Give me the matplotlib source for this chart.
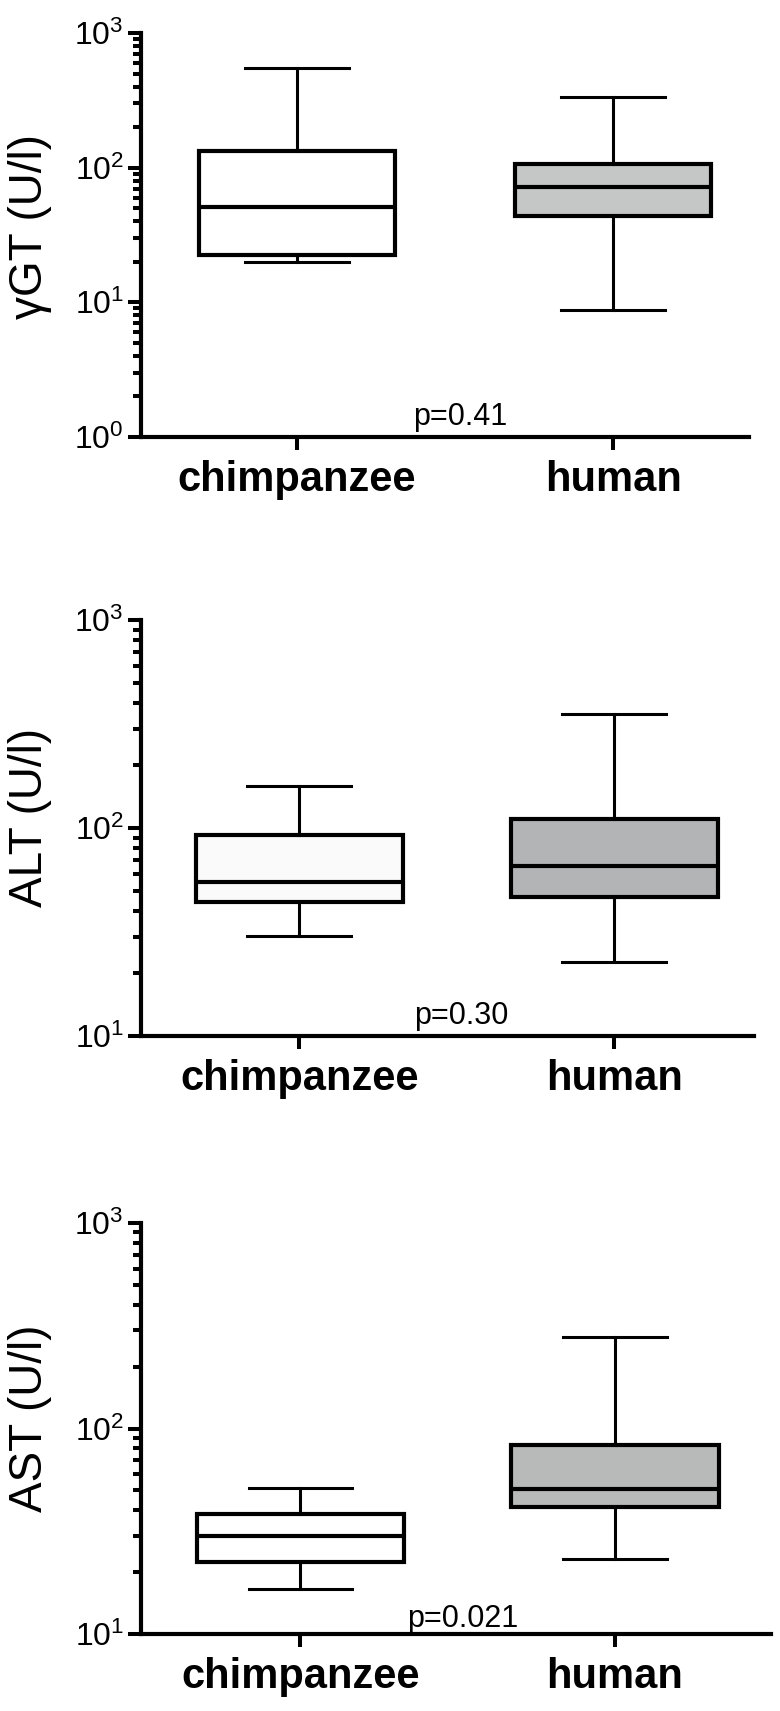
import matplotlib
matplotlib.use('Agg')
import matplotlib.pyplot as plt
from matplotlib.ticker import FixedLocator, FixedFormatter, LogLocator, NullFormatter

plt.rcParams['font.family'] = ['Liberation Sans', 'DejaVu Sans']
plt.rcParams['mathtext.fontset'] = 'custom'
plt.rcParams['mathtext.rm'] = 'Liberation Sans'
plt.rcParams['mathtext.it'] = 'Liberation Sans:italic'
plt.rcParams['mathtext.bf'] = 'Liberation Sans:bold'

# ---------------- data ----------------
groups = ['chimpanzee', 'human']
ylabels = ['γGT (U/l)', 'ALT (U/l)', 'AST (U/l)']
p_texts = ['p=0.41', 'p=0.30', 'p=0.021']

ggt_whislo = [20.0, 8.8]
ggt_q1 = [22.5, 43.7]
ggt_med = [51.0, 72.0]
ggt_q3 = [133.0, 106.0]
ggt_whishi = [550.0, 335.0]

alt_whislo = [30.3, 22.7]
alt_q1 = [44.0, 46.6]
alt_med = [55.0, 65.6]
alt_q3 = [92.5, 110.0]
alt_whishi = [159.0, 353.0]

ast_whislo = [16.6, 23.2]
ast_q1 = [22.4, 41.5]
ast_med = [30.0, 50.8]
ast_q3 = [38.4, 83.0]
ast_whishi = [51.3, 279.0]

y_decades = [[0, 1, 2, 3], [1, 2, 3], [1, 2, 3]]

# ---------------- styling / layout ----------------
W, H = 780, 1711
fig = plt.figure(figsize=(W / 100, H / 100), dpi=100)

# axes pixel boxes: left, top, right, bottom
ax_px = [(141, 33, 749, 437), (141, 620, 754, 1036), (141, 1223, 771, 1634)]
xlims = [(0.506, 2.430), (0.497, 2.443), (0.493, 2.496)]
box_w = [0.62, 0.655, 0.66]
chimp_fill = ['#ffffff', '#fafafa', '#ffffff']
human_fill = ['#c5c6c6', '#b2b4b5', '#b8baba']
ylabel_y = [226.5, 817.5, 1418]

panels = [
    (ggt_whislo, ggt_q1, ggt_med, ggt_q3, ggt_whishi),
    (alt_whislo, alt_q1, alt_med, alt_q3, alt_whishi),
    (ast_whislo, ast_q1, ast_med, ast_q3, ast_whishi),
]

for i, (wlo, q1, med, q3, whi) in enumerate(panels):
    l, t, r, b = ax_px[i]
    ax = fig.add_axes([l / W, 1 - b / H, (r - l) / W, (b - t) / H])
    stats = []
    for j in range(2):
        stats.append(dict(whislo=wlo[j], q1=q1[j], med=med[j], q3=q3[j],
                          whishi=whi[j], fliers=[], label=groups[j]))
    art = ax.bxp(stats, positions=[1, 2], widths=box_w[i], patch_artist=True,
                 showfliers=False, capwidths=0.33,
                 boxprops=dict(linewidth=3.0, edgecolor='black'),
                 medianprops=dict(linewidth=3.0, color='black'),
                 whiskerprops=dict(linewidth=2.2, color='black'),
                 capprops=dict(linewidth=2.2, color='black'))
    art['boxes'][0].set_facecolor(chimp_fill[i])
    art['boxes'][1].set_facecolor(human_fill[i])

    ax.set_yscale('log')
    ax.set_ylim(10 ** y_decades[i][0], 10 ** y_decades[i][-1])
    ax.set_xlim(*xlims[i])

    for s in ['top', 'right']:
        ax.spines[s].set_visible(False)
    for s in ['left', 'bottom']:
        ax.spines[s].set_linewidth(3.0)

    ax.yaxis.set_major_locator(FixedLocator([10.0 ** d for d in y_decades[i]]))
    ax.yaxis.set_major_formatter(FixedFormatter(
        [r'$\mathregular{10^{%d}}$' % d for d in y_decades[i]]))
    ax.yaxis.set_minor_locator(LogLocator(base=10, subs=range(2, 10), numticks=20))
    ax.yaxis.set_minor_formatter(NullFormatter())
    ax.tick_params(axis='y', which='major', length=9.4, width=2.9, labelsize=23, pad=3)
    ax.tick_params(axis='y', which='minor', length=5.5, width=2.9)

    ax.set_xticks([1, 2])
    ax.set_xticklabels(groups, fontsize=30, fontweight='bold')
    ax.tick_params(axis='x', which='major', length=9.4, width=2.9, pad=7)
    ax.tick_params(axis='x', which='minor', length=0)

    ax.text(1.515, 0.03 if i < 2 else 0.017, p_texts[i], transform=ax.get_xaxis_transform(),
            ha='center', va='baseline', fontsize=22)

    fig.text(30 / W, 1 - ylabel_y[i] / H, ylabels[i], rotation=90,
             ha='center', va='center', fontsize=33)

fig.savefig('out.png', dpi=100, facecolor='white')
